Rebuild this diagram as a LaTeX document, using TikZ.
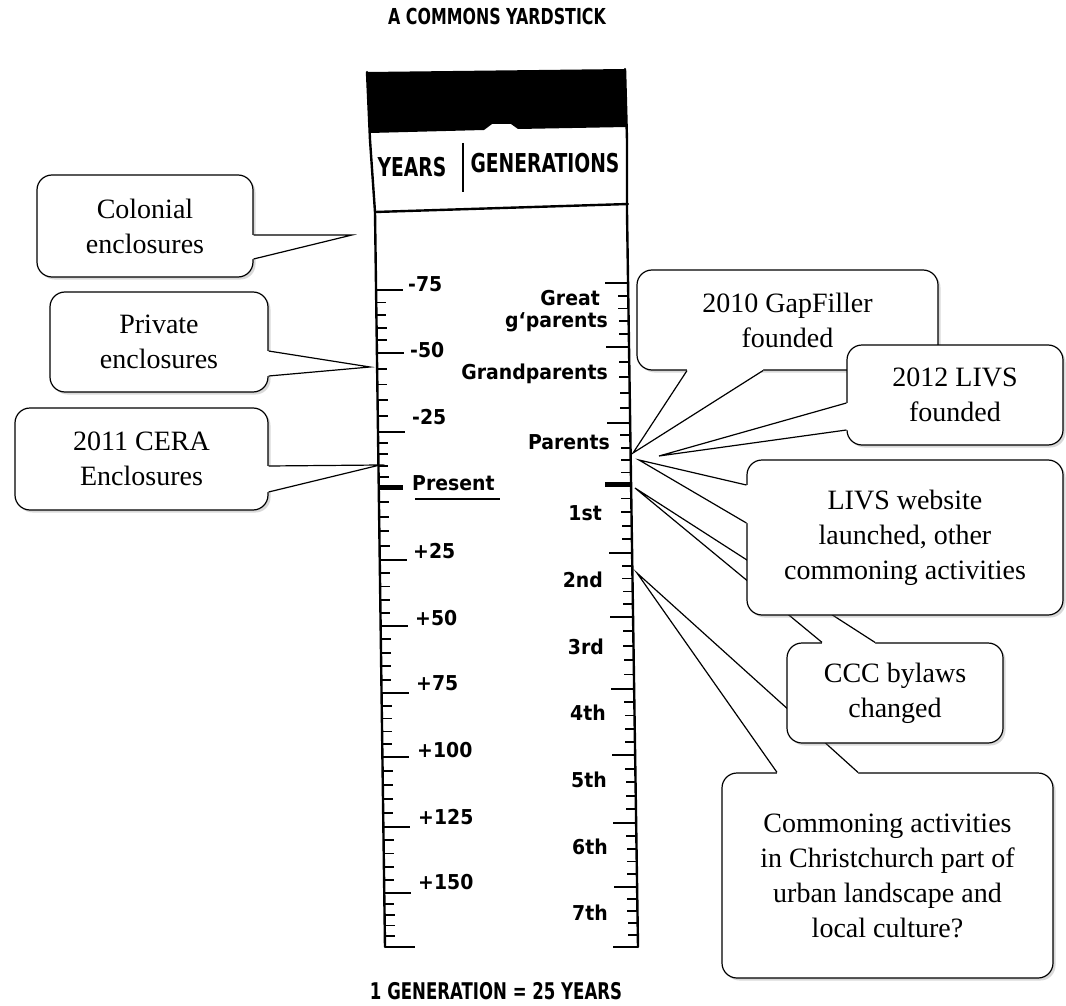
\documentclass[tikz,border=0pt]{standalone}
\usepackage{fontspec}
\setmainfont{Liberation Serif}
\newfontfamily\hand{DejaVu Sans}[FakeStretch=0.92]
\newfontfamily\handcaps{DejaVu Sans}[FakeStretch=0.72]
\usetikzlibrary{calc,shadows}

\begin{document}
\begin{tikzpicture}[x=1pt, y=-1pt,
  note/.style={draw, line width=1.2pt, rounded corners=15pt, fill=white, align=center, inner sep=0pt,
    font=\fontsize{28}{35}\selectfont,
    drop shadow={shadow xshift=2.5pt, shadow yshift=-2.5pt, opacity=0.3}},
  wedge/.style={line width=1.2pt, line join=miter},
  edge/.style={line width=2.4pt, line cap=round, line join=round},
  tick/.style={line width=1.8pt},
  lbl/.style={font=\hand\bfseries\fontsize{20.5}{22}\selectfont, inner sep=0pt},
  caps/.style={font=\handcaps\bfseries\fontsize{22}{24}\selectfont, inner sep=0pt}]

\useasboundingbox (0,0) rectangle (1066,1006);

% Yardstick
\coordinate (lt) at (375,212);
\coordinate (lb) at (385,947);
\coordinate (rt) at (627,212);
\coordinate (rb) at (638,947);

\fill (367,72) -- (625,69) -- (627,127) -- (518,129) -- (511,124) -- (492,124) -- (484,130) -- (370,133) -- cycle;
\draw[edge] (367,72) -- (370,140) -- (lt) -- (lb);
\draw[edge] (625,69) -- (627,140) -- (rt) -- (rb);
\draw[edge] (lt) -- (628,204);
\draw[tick] (463,143) -- (463,192);

\node[caps] (title) at (497,16) {A COMMONS YARDSTICK};
\node[caps, font=\handcaps\bfseries\fontsize{26}{28}\selectfont] (years) at (412,167) {YEARS};
\node[caps, font=\handcaps\bfseries\fontsize{26}{28}\selectfont] (generations) at (545,163) {GENERATIONS};
\node[caps, font=\handcaps\bfseries\fontsize{23}{25}\selectfont] (rule) at (496,991) {1 GENERATION = 25 YEARS};

% Years scale
\foreach \ya/\yb in {290/353,353/432,432/488,488/560,560/626,626/693,693/757,757/827,827/893,893/947}
  \foreach \k in {1,...,4}
    \draw[tick] ($(lt)!{(\ya+\k*(\yb-\ya)/5-212)/735}!(lb)$) -- +(10,0);
\foreach \y in {290,353,432,560,626,693,757,827,893}
  \draw[tick] ($(lt)!{(\y-212)/735}!(lb)$) -- +(27,0);
\draw[line width=5pt] ($(lt)!{(488-212)/735}!(lb)$) -- +(24,0);
\draw[tick] (lb) -- +(30,0);

\foreach \y/\x/\t [count=\i] in {289/408/-75, 355/410/-50, 422/412/-25, 556/413/+25, 623/415/+50,
    688/416/+75, 755/417/+100, 822/418/+125, 887/418/+150}
  \node[lbl, anchor=mid west] (year\i) at (\x,\y) {\t};
\node[lbl, anchor=mid west] (present) at (412,488) {Present};
\draw[tick] ($(present.south west)+(3,8)$) -- ($(present.south east)+(5,8)$);

% Generations scale
\foreach \ya/\yb in {283/347,347/423,423/485,485/553,553/617,617/689,689/755,755/823,823/887,887/947}
  \foreach \k in {1,...,4}
    \draw[tick] ($(rt)!{(\ya+\k*(\yb-\ya)/5-212)/735}!(rb)$) -- +(-10,0);
\foreach \y in {283,347,423,553,617,689,755,823,887}
  \draw[tick] ($(rt)!{(\y-212)/735}!(rb)$) -- +(-23,0);
\draw[line width=5pt] ($(rt)!{(485-212)/735}!(rb)$) -- +(-26,0);
\draw[tick] (rb) -- +(-25,0);

\foreach \y/\x/\t [count=\i] in {303/600/Great, 325/608/g‘parents, 377/608/Grandparents, 447/610/Parents,
    518/602/1st, 585/603/2nd, 652/604/3rd, 718/606/4th, 785/607/5th, 852/608/6th, 918/608/7th}
  \node[lbl, anchor=mid east] (gen\i) at (\x,\y) {\t};

% Left callouts
\node[note, minimum width=216, minimum height=102] (colonial) at (145,226) {Colonial\\enclosures};
\coordinate (colonial tip) at (352,235);
\fill[white] ($(colonial.east)+(-3,9)$) -- ($(colonial.east)+(0,9)$) -- (colonial tip)
  -- ($(colonial.east)+(0,33)$) -- ($(colonial.east)+(-3,33)$) -- cycle;
\draw[wedge] ($(colonial.east)+(0,9)$) -- (colonial tip) -- ($(colonial.east)+(0,33)$);

\node[note, minimum width=218, minimum height=100] (private) at (159,342) {Private\\enclosures};
\coordinate (private tip) at (370,367);
\fill[white] ($(private.east)+(-3,9)$) -- ($(private.east)+(0,9)$) -- (private tip)
  -- ($(private.east)+(0,34)$) -- ($(private.east)+(-3,34)$) -- cycle;
\draw[wedge] ($(private.east)+(0,9)$) -- (private tip) -- ($(private.east)+(0,34)$);

\node[note, minimum width=253, minimum height=102] (cera) at (141.5,459) {2011 CERA\\Enclosures};
\coordinate (cera tip) at (380,465);
\fill[white] ($(cera.east)+(-3,7)$) -- ($(cera.east)+(0,7)$) -- (cera tip)
  -- ($(cera.east)+(0,33)$) -- ($(cera.east)+(-3,33)$) -- cycle;
\draw[wedge] ($(cera.east)+(0,7)$) -- (cera tip) -- ($(cera.east)+(0,33)$);

% Right callouts
\node[note, minimum width=301, minimum height=100] (gapfiller) at (787.5,320) {2010 GapFiller\\founded};
\coordinate (gapfiller tip) at (633,453);
\fill[white] ($(gapfiller.south)+(-100.5,-3)$) -- ($(gapfiller.south)+(-100.5,0)$) -- (gapfiller tip)
  -- ($(gapfiller.south)+(-24.5,0)$) -- ($(gapfiller.south)+(-24.5,-3)$) -- cycle;
\draw[wedge] ($(gapfiller.south)+(-100.5,0)$) -- (gapfiller tip) -- ($(gapfiller.south)+(-24.5,0)$);

\node[note, minimum width=216, minimum height=100] (livs) at (955,395) {2012 LIVS\\founded};
\coordinate (livs tip) at (659,456);
\fill[white] ($(livs.west)+(3,8)$) -- ($(livs.west)+(0,8)$) -- (livs tip)
  -- ($(livs.west)+(0,35)$) -- ($(livs.west)+(3,35)$) -- cycle;
\draw[wedge] ($(livs.west)+(0,8)$) -- (livs tip) -- ($(livs.west)+(0,35)$);

\node[note, minimum width=331, minimum height=205] (commoning) at (887.5,875.5)
  {Commoning activities\\in Christchurch part of\\urban landscape and\\local culture?};
\coordinate (commoning tip) at (637,573);
\fill[white] ($(commoning.north)+(-110.5,3)$) -- ($(commoning.north)+(-110.5,0)$) -- (commoning tip)
  -- ($(commoning.north)+(-29.5,0)$) -- ($(commoning.north)+(-29.5,3)$) -- cycle;
\draw[wedge] ($(commoning.north)+(-110.5,0)$) -- (commoning tip) -- ($(commoning.north)+(-29.5,0)$);

\node[note, minimum width=216, minimum height=100] (bylaws) at (895,693) {CCC bylaws\\changed};
\coordinate (bylaws tip) at (635,488);
\fill[white] ($(bylaws.north)+(-73,3)$) -- ($(bylaws.north)+(-73,0)$) -- (bylaws tip)
  -- ($(bylaws.north)+(-20,0)$) -- ($(bylaws.north)+(-20,3)$) -- cycle;
\draw[wedge] ($(bylaws.north)+(-73,0)$) -- (bylaws tip) -- ($(bylaws.north)+(-20,0)$);

\node[note, minimum width=316, minimum height=155] (website) at (905,537.5)
  {LIVS website\\launched, other\\commoning activities};
\coordinate (website tip) at (639,460);
\fill[white] ($(website.west)+(3,-52.5)$) -- ($(website.west)+(0,-52.5)$) -- (website tip)
  -- ($(website.west)+(0,-14.5)$) -- ($(website.west)+(3,-14.5)$) -- cycle;
\draw[wedge] ($(website.west)+(0,-52.5)$) -- (website tip) -- ($(website.west)+(0,-14.5)$);

\end{tikzpicture}
\end{document}
